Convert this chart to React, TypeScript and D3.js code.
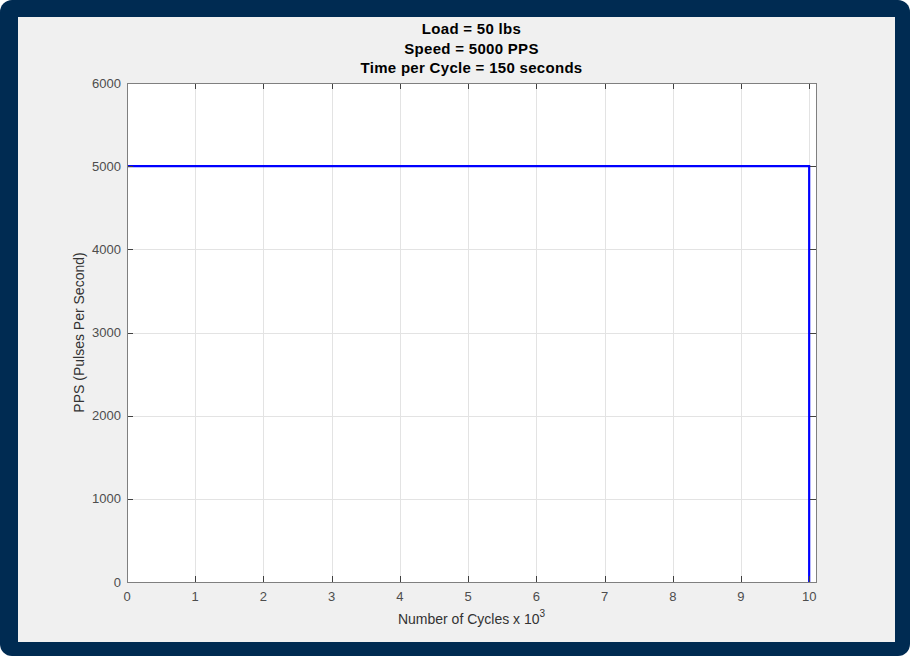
import { useEffect, useRef } from 'react';
import * as d3 from 'd3';

// step profile: speed held at 5000 PPS until the cycle count runs out
const cycles = [0, 10, 10];
const pps = [5000, 5000, 0];
const xTicks = [0, 1, 2, 3, 4, 5, 6, 7, 8, 9, 10];
const yTicks = [0, 1000, 2000, 3000, 4000, 5000, 6000];
const titleLines = ['Load = 50 lbs', 'Speed = 5000 PPS', 'Time per Cycle = 150 seconds'];

export default function App() {
  const svgRef = useRef<SVGSVGElement>(null);

  useEffect(() => {
    document.body.style.margin = '0';
    if (!svgRef.current) return;
    const svg = d3.select(svgRef.current);
    svg.selectAll('*').remove();

    const W = 910, H = 656;
    const m = { left: 127, top: 83, right: 816, bottom: 582 };
    const font = 'Liberation Sans, Arial, Helvetica, sans-serif';

    // frame + panel
    svg.append('rect').attr('width', W).attr('height', H).attr('rx', 12).attr('fill', '#002b52');
    svg.append('rect').attr('x', 18).attr('y', 17).attr('width', 877).attr('height', 625).attr('fill', '#f0f0f0');

    const x = d3.scaleLinear().domain([0, 10.1]).range([m.left, m.right]);
    const y = d3.scaleLinear().domain([0, 6000]).range([m.bottom, m.top]);

    svg.append('rect')
      .attr('x', m.left).attr('y', m.top)
      .attr('width', m.right - m.left).attr('height', m.bottom - m.top)
      .attr('fill', '#ffffff');

    // grid
    const grid = svg.append('g').attr('stroke', '#e3e3e3').attr('stroke-width', 1);
    xTicks.forEach(t => {
      grid.append('line').attr('x1', Math.round(x(t)) + 0.5).attr('x2', Math.round(x(t)) + 0.5)
        .attr('y1', m.top).attr('y2', m.bottom);
    });
    yTicks.forEach(t => {
      grid.append('line').attr('y1', Math.round(y(t)) + 0.5).attr('y2', Math.round(y(t)) + 0.5)
        .attr('x1', m.left).attr('x2', m.right);
    });

    // data line
    const line = d3.line<number>().x((_, i) => x(cycles[i])).y(d => y(d));
    svg.append('path').datum(pps).attr('d', line as any)
      .attr('fill', 'none').attr('stroke', '#0000ff').attr('stroke-width', 2.2)
      .attr('stroke-linejoin', 'miter');

    // ticks (inward, all four sides)
    const tk = svg.append('g').attr('stroke', '#404040').attr('stroke-width', 1);
    const tl = 6;
    xTicks.forEach(t => {
      const px = Math.round(x(t)) + 0.5;
      tk.append('line').attr('x1', px).attr('x2', px).attr('y1', m.bottom).attr('y2', m.bottom - tl);
      tk.append('line').attr('x1', px).attr('x2', px).attr('y1', m.top).attr('y2', m.top + tl);
    });
    yTicks.forEach(t => {
      const py = Math.round(y(t)) + 0.5;
      tk.append('line').attr('x1', m.left).attr('x2', m.left + tl).attr('y1', py).attr('y2', py);
      tk.append('line').attr('x1', m.right).attr('x2', m.right - tl).attr('y1', py).attr('y2', py);
    });

    // box
    svg.append('rect')
      .attr('x', m.left + 0.5).attr('y', m.top + 0.5)
      .attr('width', m.right - m.left).attr('height', m.bottom - m.top)
      .attr('fill', 'none').attr('stroke', '#7f7f7f').attr('stroke-width', 1);

    // tick labels
    const lab = svg.append('g').attr('font-family', font).attr('font-size', 13).attr('fill', '#4d4d4d');
    xTicks.forEach(t => {
      lab.append('text').attr('x', x(t)).attr('y', 601).attr('text-anchor', 'middle').text(t);
    });
    yTicks.forEach(t => {
      lab.append('text').attr('x', 121).attr('y', y(t)).attr('dy', '0.35em')
        .attr('text-anchor', 'end').text(t);
    });

    // axis labels
    const xl = svg.append('text').attr('x', (m.left + m.right) / 2).attr('y', 624)
      .attr('text-anchor', 'middle').attr('font-family', font).attr('font-size', 14).attr('fill', '#333333');
    xl.append('tspan').text('Number of Cycles x 10');
    xl.append('tspan').attr('dy', -7).attr('font-size', 10).text('3');

    svg.append('text')
      .attr('transform', `translate(84,${(m.top + m.bottom) / 2}) rotate(-90)`)
      .attr('text-anchor', 'middle').attr('font-family', font).attr('font-size', 14).attr('fill', '#333333')
      .text('PPS (Pulses Per Second)');

    // title
    titleLines.forEach((s, i) => {
      svg.append('text').attr('x', (m.left + m.right) / 2).attr('y', 34 + i * 19.5)
        .attr('text-anchor', 'middle').attr('font-family', font).attr('font-weight', 'bold')
        .attr('font-size', 15).attr('letter-spacing', 0.3).attr('fill', '#000000').text(s);
    });
  }, []);

  return <svg ref={svgRef} width={910} height={656} style={{ display: 'block' }} />;
}
